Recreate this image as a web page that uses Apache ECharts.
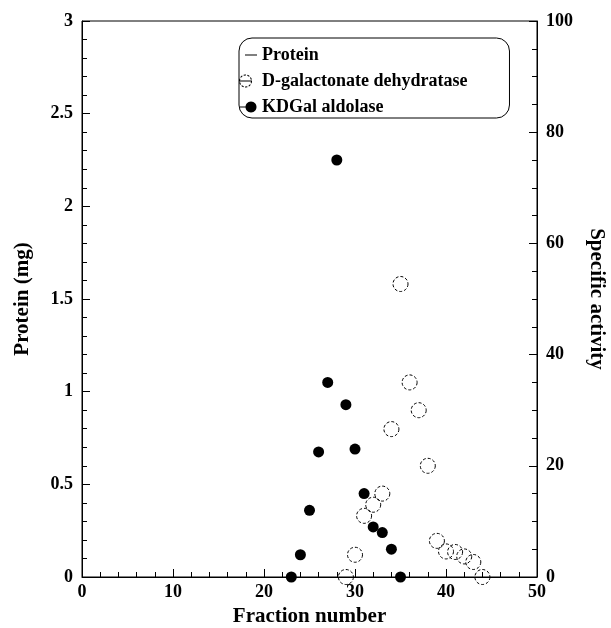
<!DOCTYPE html>
<html>
<head>
<meta charset="utf-8">
<script src="https://cdn.jsdelivr.net/npm/echarts@6/dist/echarts.min.js"></script>
<style>
  html, body { margin: 0; padding: 0; background: #fff; }
  #chart { width: 611px; height: 628px; }
</style>
</head>
<body>
<div id="chart"></div>
<script>
// Fractions and specific activities of the two enzymes
const aldolaseFractions = [23, 24, 25, 26, 27, 28, 29, 30, 31, 32, 33, 34, 35];
const aldolaseActivity = [0, 4, 12, 22.5, 35, 75, 31, 23, 15, 9, 8, 5, 0];

const dehydrataseFractions = [29, 30, 31, 32, 33, 34, 35, 36, 37, 38, 39, 40, 41, 42, 43, 44];
const dehydrataseActivity = [0, 4, 11, 13, 15, 26.6, 52.7, 35, 30, 20, 6.5, 4.6, 4.5, 3.7, 2.7, 0];

// Protein profile: no readings plotted
const proteinFractions = [];
const proteinMg = [];

const seriesNames = ['Protein', 'D-galactonate dehydratase', 'KDGal aldolase'];

const pairs = (xs, ys) => xs.map((x, i) => [x, ys[i]]);

const FONT = '"Liberation Serif", "Times New Roman", serif';

// ---- Legend glyphs, built as filled outlines inside a shared 18x14 frame ----
const f = v => v.toFixed(2);
const FRAME = 'M0,0 M18,14 ';
function rect(x0, y0, x1, y1) {
  return `M${f(x0)},${f(y0)} L${f(x1)},${f(y0)} L${f(x1)},${f(y1)} L${f(x0)},${f(y1)} Z `;
}
function disc(cx, cy, r, steps) {
  let d = '';
  for (let i = 0; i < steps; i++) {
    const a = (i / steps) * Math.PI * 2;
    d += (i === 0 ? 'M' : 'L') + f(cx + r * Math.cos(a)) + ',' + f(cy + r * Math.sin(a)) + ' ';
  }
  return d + 'Z ';
}
function dashedRing(cx, cy, rOut, rIn, dashes, duty) {
  let d = '';
  const seg = (Math.PI * 2) / dashes;
  for (let k = 0; k < dashes; k++) {
    const a0 = k * seg, a1 = a0 + seg * duty;
    const pts = [];
    for (let s = 0; s <= 4; s++) {
      const a = a0 + (a1 - a0) * s / 4;
      pts.push([cx + rOut * Math.cos(a), cy + rOut * Math.sin(a)]);
    }
    for (let s = 4; s >= 0; s--) {
      const a = a0 + (a1 - a0) * s / 4;
      pts.push([cx + rIn * Math.cos(a), cy + rIn * Math.sin(a)]);
    }
    d += pts.map((p, i) => (i === 0 ? 'M' : 'L') + f(p[0]) + ',' + f(p[1])).join(' ') + ' Z ';
  }
  return d;
}
const ICON_RULE = 'path://' + FRAME + rect(6, 6.5, 18, 7.5);
const ICON_OPEN = 'path://' + FRAME + rect(0, 6.5, 13, 7.5) + dashedRing(6.5, 7, 6.5, 5.5, 10, 0.62);
const ICON_FILLED = 'path://' + FRAME + rect(1, 6.5, 12, 7.5) + disc(12, 7, 5.5, 28);

const chart = echarts.init(document.getElementById('chart'), null, { renderer: 'canvas' });

const tickLabel = { color: '#000', fontFamily: FONT, fontWeight: 'bold', fontSize: 18 };
const nameStyle = { color: '#000', fontFamily: FONT, fontWeight: 'bold', fontSize: 21 };
const iconStyle = { color: '#000', borderWidth: 0 };

chart.setOption({
  animation: false,
  backgroundColor: '#fff',
  grid: {
    left: 82, right: 74, top: 21, bottom: 51,
    outerBoundsMode: 'none',
    containLabel: false,
    show: true, borderColor: '#000', borderWidth: 1, backgroundColor: 'transparent'
  },
  legend: {
    orient: 'vertical',
    left: 239, top: 38,
    data: [
      { name: seriesNames[0], icon: ICON_RULE, itemStyle: iconStyle },
      { name: seriesNames[1], icon: ICON_OPEN, itemStyle: iconStyle },
      { name: seriesNames[2], icon: ICON_FILLED, itemStyle: iconStyle }
    ],
    itemWidth: 18, itemHeight: 14, itemGap: 8,
    padding: [8, 42, 2, 0],
    borderColor: '#000', borderWidth: 1, borderRadius: 13,
    backgroundColor: '#fff',
    textStyle: { color: '#000', fontFamily: FONT, fontWeight: 'bold', fontSize: 18 }
  },
  xAxis: {
    type: 'value', min: 0, max: 50, interval: 10,
    name: 'Fraction number', nameLocation: 'middle', nameGap: 29, nameTextStyle: nameStyle,
    axisLine: { show: true, lineStyle: { color: '#000', width: 1 } },
    axisTick: { show: true, inside: true, length: 8, lineStyle: { color: '#000' } },
    minorTick: { show: true, splitNumber: 5, length: 5, lineStyle: { color: '#000' } },
    splitLine: { show: false },
    axisLabel: Object.assign({ margin: 6 }, tickLabel)
  },
  yAxis: [
    {
      type: 'value', min: 0, max: 3, interval: 0.5, position: 'left',
      name: 'Protein (mg)', nameLocation: 'middle', nameGap: 49, nameRotate: 90, nameTextStyle: nameStyle,
      axisLine: { show: true, lineStyle: { color: '#000', width: 1 } },
      axisTick: { show: true, inside: true, length: 8, lineStyle: { color: '#000' } },
      minorTick: { show: true, splitNumber: 5, length: 5, lineStyle: { color: '#000' } },
      splitLine: { show: false },
      axisLabel: Object.assign({ margin: 9 }, tickLabel)
    },
    {
      type: 'value', min: 0, max: 100, interval: 20, position: 'right',
      name: 'Specific activity', nameLocation: 'middle', nameGap: 49, nameRotate: -90, nameTextStyle: nameStyle,
      axisLine: { show: true, lineStyle: { color: '#000', width: 1 } },
      axisTick: { show: true, inside: true, length: 8, lineStyle: { color: '#000' } },
      minorTick: { show: true, splitNumber: 4, length: 5, lineStyle: { color: '#000' } },
      splitLine: { show: false },
      axisLabel: Object.assign({ margin: 9 }, tickLabel)
    }
  ],
  series: [
    {
      name: 'Protein', type: 'line', yAxisIndex: 0,
      data: pairs(proteinFractions, proteinMg),
      symbol: 'none',
      lineStyle: { color: '#000', width: 1 },
      itemStyle: { color: '#000' }
    },
    {
      name: 'D-galactonate dehydratase', type: 'scatter', yAxisIndex: 1,
      data: pairs(dehydrataseFractions, dehydrataseActivity),
      symbol: 'circle', symbolSize: 15,
      itemStyle: { color: 'transparent', borderColor: '#000', borderWidth: 1, borderType: [3, 2], opacity: 1 },
      z: 3
    },
    {
      name: 'KDGal aldolase', type: 'scatter', yAxisIndex: 1,
      data: pairs(aldolaseFractions, aldolaseActivity),
      symbol: 'circle', symbolSize: 11,
      itemStyle: { color: '#000', borderColor: '#000', borderWidth: 0, opacity: 1 },
      z: 2
    }
  ]
});
</script>
</body>
</html>
